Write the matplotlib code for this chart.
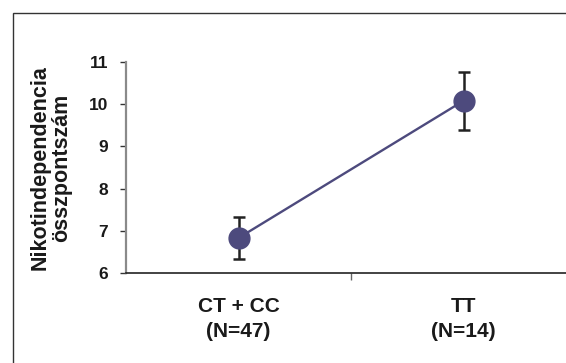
import matplotlib
matplotlib.use("Agg")
import matplotlib.pyplot as plt
from matplotlib.patches import Rectangle

categories = ["CT + CC\n(N=47)", "TT\n(N=14)"]
means = [6.83, 10.08]
errors = [0.50, 0.68]
yticks = [6, 7, 8, 9, 10, 11]
ylabel = "Nikotindependencia\nösszpontszám"

plt.rcParams['font.family'] = ['Liberation Sans', 'DejaVu Sans']
plt.rcParams['font.weight'] = 'bold'

W, H = 566, 363
fig = plt.figure(figsize=(W / 100, H / 100), dpi=100)
fig.patch.set_facecolor('white')

ax = fig.add_axes([126 / W, 90 / H, 450 / W, 211 / H])
xpos = [0.5, 1.5]

ax.errorbar(xpos, means, yerr=errors, fmt='none', ecolor='#222222',
            elinewidth=1.8, capsize=4, capthick=1.8, zorder=2)
ax.plot(xpos, means, color='#4d4a7d', lw=1.7, marker='o', markersize=15,
        markerfacecolor='#4d4a7d', markeredgecolor='#4d4a7d', zorder=3,
        clip_on=False)

ax.set_xlim(0, 2)
ax.set_ylim(6, 11)
ax.set_yticks(yticks)
ax.set_yticklabels([str(t) for t in yticks], fontsize=12.5, fontweight='bold',
                   color='#1a1a1a')
ax.tick_params(axis='y', length=4, width=1.0, color='#333333', pad=9)

ax.set_xticks([1.0])
ax.set_xticklabels([''])
ax.set_xticks(xpos, minor=True)
ax.set_xticklabels(categories, minor=True, fontsize=15, fontweight='bold',
                   color='#1a1a1a', linespacing=1.45)
ax.tick_params(axis='x', which='major', length=5, width=1.0, color='#666666')
ax.tick_params(axis='x', which='minor', length=0, pad=17)

for s in ['top', 'right']:
    ax.spines[s].set_visible(False)
ax.spines['left'].set_color('#8a8a8a')
ax.spines['left'].set_linewidth(1.6)
ax.spines['bottom'].set_color('#222222')
ax.spines['bottom'].set_linewidth(1.2)

ax.set_ylabel(ylabel, fontsize=15.5, fontweight='bold', color='#1a1a1a',
              linespacing=1.05)
ax.yaxis.set_label_coords(-0.12, 0.5)

fig.add_artist(Rectangle((12.5 / W, -0.1), 1.2, (H - 12.5) / H + 0.1,
                         transform=fig.transFigure, fill=False, lw=1.0,
                         edgecolor='#333333'))

fig.savefig('out.png', dpi=100, facecolor='white')
